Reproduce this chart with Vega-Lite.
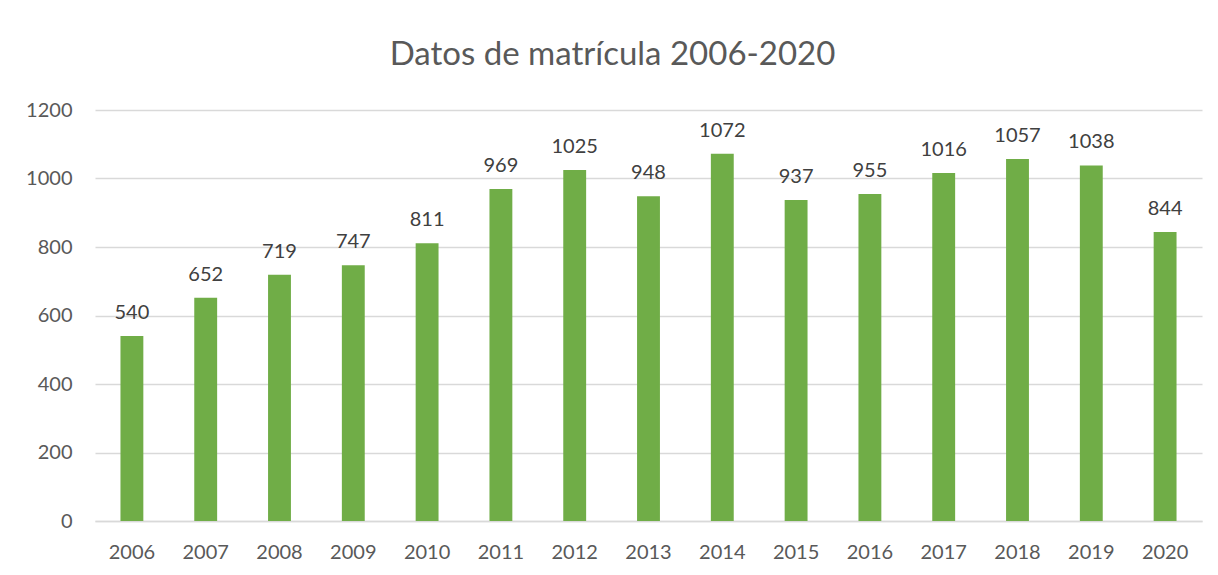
{
  "$schema": "https://vega.github.io/schema/vega-lite/v6.json",
  "width": 1107,
  "height": 411,
  "autosize": "none",
  "padding": {"left": 95, "top": 110, "right": 16, "bottom": 54},
  "background": "white",
  "config": {
    "font": "Lato",
    "view": {"stroke": null}
  },
  "title": {
    "text": "Datos de matrícula 2006-2020",
    "fontSize": 33,
    "font": "Lato",
    "fontWeight": "normal",
    "color": "#595959",
    "anchor": "middle",
    "dx": -36,
    "baseline": "alphabetic",
    "offset": 2
  },
  "data": {
    "values": [
      {"year": "2006", "value": 540},
      {"year": "2007", "value": 652},
      {"year": "2008", "value": 719},
      {"year": "2009", "value": 747},
      {"year": "2010", "value": 811},
      {"year": "2011", "value": 969},
      {"year": "2012", "value": 1025},
      {"year": "2013", "value": 948},
      {"year": "2014", "value": 1072},
      {"year": "2015", "value": 937},
      {"year": "2016", "value": 955},
      {"year": "2017", "value": 1016},
      {"year": "2018", "value": 1057},
      {"year": "2019", "value": 1038},
      {"year": "2020", "value": 844}
    ]
  },
  "encoding": {
    "x": {
      "field": "year",
      "type": "ordinal",
      "scale": {"paddingInner": 0.69, "paddingOuter": 0.345},
      "axis": {
        "title": null,
        "labelAngle": 0,
        "labelFontSize": 20,
        "labelColor": "#595959",
        "labelPadding": 21,
        "ticks": false,
        "domainColor": "#d9d9d9",
        "domainWidth": 1.5
      }
    },
    "y": {
      "field": "value",
      "type": "quantitative",
      "scale": {"domain": [0, 1200]},
      "axis": {
        "title": null,
        "values": [0, 200, 400, 600, 800, 1000, 1200],
        "format": "d",
        "labelFontSize": 20,
        "labelColor": "#595959",
        "labelPadding": 23,
        "ticks": false,
        "domain": false,
        "gridColor": "#d9d9d9",
        "gridWidth": 1.5
      }
    }
  },
  "layer": [
    {"mark": {"type": "bar", "color": "#70AD47"}},
    {
      "mark": {"type": "text", "baseline": "alphabetic", "dy": -17, "fontSize": 20, "color": "#404040"},
      "encoding": {"text": {"field": "value", "type": "quantitative"}}
    }
  ]
}
